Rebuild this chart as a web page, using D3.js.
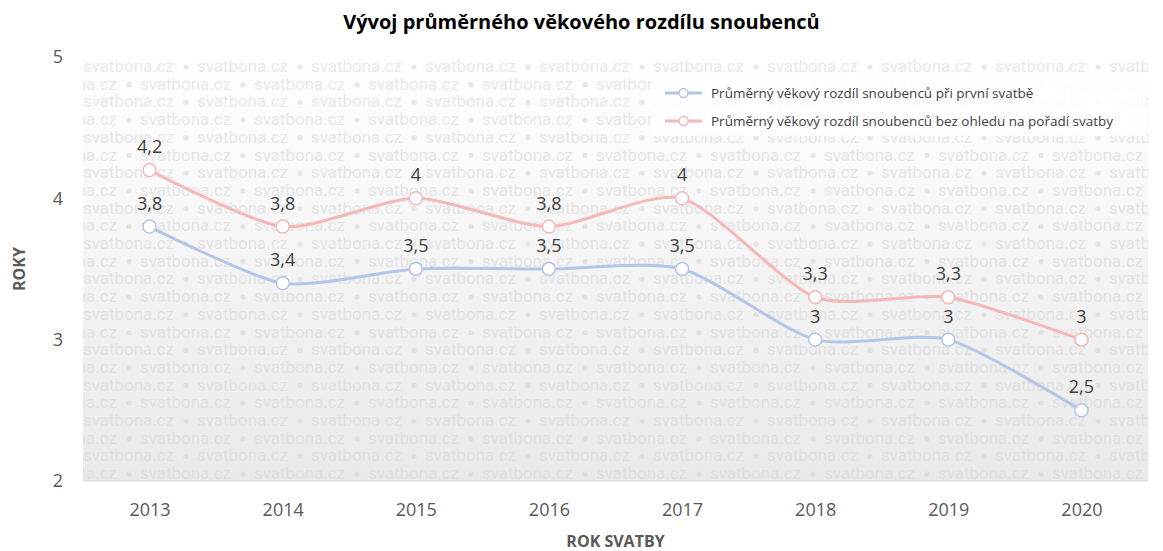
<!DOCTYPE html>
<html>
<head>
<meta charset="utf-8">
<script src="https://cdn.jsdelivr.net/npm/d3@7"></script>
<style>
  body { margin:0; background:#fff; }
  svg text { font-family: "Open Sans", "Noto Sans", sans-serif; }
</style>
</head>
<body>
<div id="chart"></div>
<script>
// data
var years = ['2013','2014','2015','2016','2017','2018','2019','2020'];
var firstWedding = [3.8, 3.4, 3.5, 3.5, 3.5, 3, 3, 2.5];
var anyWedding = [4.2, 3.8, 4, 3.8, 4, 3.3, 3.3, 3];
var seriesNames = ['Průměrný věkový rozdíl snoubenců při první svatbě',
                   'Průměrný věkový rozdíl snoubenců bez ohledu na pořadí svatby'];
var yTicks = [2, 3, 4, 5];

var width = 1163, height = 551;
var margin = {t:57, r:15, b:70, l:83};
var plotWidth = width - margin.l - margin.r,
    plotHeight = height - margin.t - margin.b;

var colors = ['#b4c6e7', '#f4b8b8'];
var series = [
  {name: seriesNames[0], values: firstWedding, color: colors[0]},
  {name: seriesNames[1], values: anyWedding, color: colors[1]}
];

var svg = d3.select('#chart').append('svg')
    .attr('width', width)
    .attr('height', height);

var defs = svg.append('defs');
var grad = defs.append('linearGradient')
    .attr('id','bg').attr('x1',0).attr('x2',0).attr('y1',0).attr('y2',1);
grad.append('stop').attr('offset','0%').attr('stop-color','#ffffff');
grad.append('stop').attr('offset','100%').attr('stop-color','#e9e9e9');
defs.append('clipPath').attr('id','clip')
  .append('rect').attr('width', plotWidth).attr('height', plotHeight);

var x = d3.scalePoint().domain(years).range([0, plotWidth]).padding(0.5);
var y = d3.scaleLinear().domain([2, 5]).range([plotHeight, 0]);

var plot = svg.append('g')
    .attr('transform','translate('+margin.l+','+margin.t+')');

plot.append('rect')
    .attr('width', plotWidth)
    .attr('height', plotHeight)
    .style('fill','url(#bg)');

// watermark: "svatbona.cz" tokens with dots, rows shifted by half a period
var wm = plot.append('g').attr('clip-path','url(#clip)');
var period = 114, rowH = 17.7;
for (var r = 0; r * rowH < plotHeight + rowH; r++) {
    var off = (r % 2) ? -57 : 0;
    for (var px = off; px < plotWidth + period; px += period) {
        wm.append('text')
            .attr('x', px)
            .attr('y', 15 + r * rowH)
            .attr('textLength', 91)
            .attr('lengthAdjust','spacingAndGlyphs')
            .style('font-family','Roboto, sans-serif')
            .style('font-size','17px')
            .style('fill','#d6d6d6')
            .style('fill-opacity',0.55)
            .text('svatbona.cz');
        wm.append('circle')
            .attr('cx', px + 103)
            .attr('cy', 15 + r * rowH - 5)
            .attr('r', 2.6)
            .style('fill','#d6d6d6')
            .style('fill-opacity',0.55);
    }
}

plot.append('line')
    .attr('x1',0).attr('x2',plotWidth)
    .attr('y1',plotHeight).attr('y2',plotHeight)
    .style('stroke','#d9d9d9').style('stroke-width',1);

// axes
var yAxis = d3.axisLeft(y).tickValues(yTicks).tickFormat(d3.format('d'))
    .tickSize(0).tickPadding(20);
plot.append('g').call(yAxis)
    .call(function(g){ g.select('.domain').remove(); })
    .selectAll('text')
    .style('font-size','18px').style('fill','#595959')
    .style('font-family','"Open Sans", sans-serif');

var xAxis = d3.axisBottom(x).tickSize(0).tickPadding(22);
plot.append('g')
    .attr('transform','translate(0,'+plotHeight+')')
    .call(xAxis)
    .call(function(g){ g.select('.domain').remove(); })
    .selectAll('text')
    .style('font-size','18px').style('fill','#595959')
    .style('font-family','"Open Sans", sans-serif');

// legend background sits over the watermark
svg.append('rect')
    .attr('x',652).attr('y',76).attr('width',494).attr('height',60)
    .style('fill','#fff').style('fill-opacity',0.85);

// lines
var line = d3.line()
    .x(function(d,i){ return x(years[i]); })
    .y(function(d){ return y(d); })
    .curve(d3.curveCardinal.tension(0.3));

var fmt = function(v){ return String(v).replace('.', ','); };

series.forEach(function(s){
    var g = plot.append('g');
    g.append('path')
        .attr('d', line(s.values))
        .style('fill','none')
        .style('stroke', s.color)
        .style('stroke-width',3);
    g.selectAll('circle').data(s.values).enter().append('circle')
        .attr('cx', function(d,i){ return x(years[i]); })
        .attr('cy', function(d){ return y(d); })
        .attr('r', 6.5)
        .style('fill','#fff')
        .style('stroke', s.color)
        .style('stroke-width',1.5);
    g.selectAll('text.lbl').data(s.values).enter().append('text')
        .attr('class','lbl')
        .attr('x', function(d,i){ return x(years[i]); })
        .attr('y', function(d){ return y(d) - 17; })
        .attr('text-anchor','middle')
        .style('font-size','18px')
        .style('fill','#404040')
        .text(fmt);
});

// legend
var legend = svg.append('g').attr('transform','translate(665,93)');
series.forEach(function(s, i){
    var lg = legend.append('g').attr('transform','translate(0,'+(i*28)+')');
    lg.append('line')
        .attr('x1',0).attr('x2',37).attr('y1',0).attr('y2',0)
        .style('stroke', s.color).style('stroke-width',3);
    lg.append('circle')
        .attr('cx',18.5).attr('cy',0).attr('r',4.5)
        .style('fill','#fff').style('stroke', s.color).style('stroke-width',1.5);
    lg.append('text')
        .attr('x',46).attr('y',5)
        .style('font-size','13.5px').style('fill','#404040')
        .text(s.name);
});

// titles
svg.append('text')
    .attr('x', width/2).attr('y', 29)
    .attr('text-anchor','middle')
    .style('font-size','20px').style('font-weight','bold').style('fill','#000')
    .text('Vývoj průměrného věkového rozdílu snoubenců');

svg.append('text')
    .attr('transform','translate(25,'+(margin.t + plotHeight/2)+') rotate(-90)')
    .attr('text-anchor','middle')
    .style('font-size','16px').style('font-weight','bold').style('fill','#595959')
    .text('ROKY');

svg.append('text')
    .attr('x', margin.l + plotWidth/2).attr('y', 547)
    .attr('text-anchor','middle')
    .style('font-size','16px').style('font-weight','bold').style('fill','#595959')
    .text('ROK SVATBY');
</script>
</body>
</html>
